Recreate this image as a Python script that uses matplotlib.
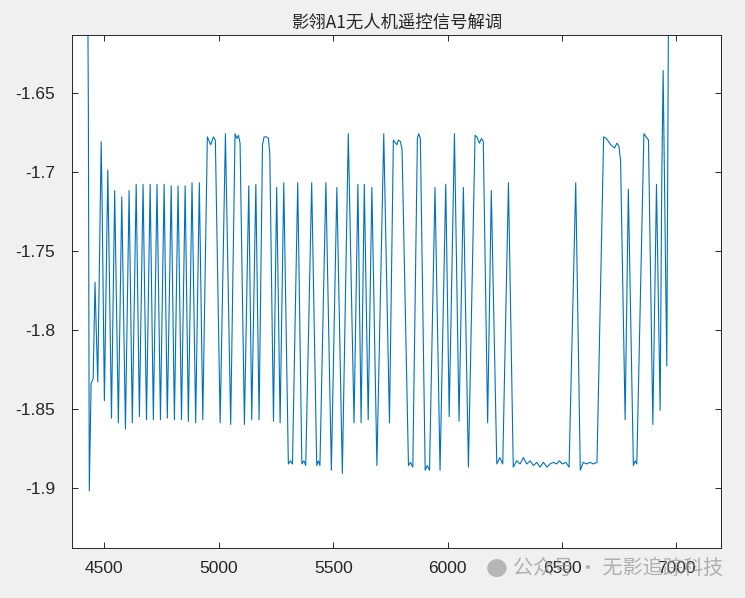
import numpy as np
import matplotlib
matplotlib.use("Agg")
from matplotlib import pyplot as plt
from matplotlib.patches import Ellipse

""" 影翎A1 remote control signal demod trace, MATLAB look """

# sample index of each vertex
sample_idx = [
    4427, 4430, 4434, 4442, 4451, 4459, 4464, 4471, 4486, 4490,
    4500, 4515, 4531, 4545, 4561, 4576, 4592, 4608, 4622, 4639,
    4653, 4669, 4684, 4700, 4714, 4730, 4745, 4761, 4775, 4792,
    4806, 4822, 4837, 4853, 4867, 4883, 4899, 4915, 4930, 4950,
    4965, 4976, 4985, 5006, 5029, 5052, 5071, 5079, 5086, 5093,
    5112, 5131, 5144, 5162, 5176, 5191, 5198, 5208, 5217, 5223,
    5239, 5253, 5268, 5284, 5304, 5313, 5322, 5345, 5363, 5372,
    5380, 5406, 5428, 5435, 5442, 5468, 5492, 5516, 5540, 5566,
    5591, 5608, 5622, 5636, 5653, 5669, 5691, 5721, 5746, 5763,
    5778, 5785, 5794, 5801, 5829, 5838, 5848, 5868, 5874, 5881,
    5902, 5911, 5921, 5945, 5967, 5992, 6007, 6030, 6050, 6069,
    6091, 6120, 6128, 6139, 6148, 6156, 6175, 6191, 6215, 6228,
    6241, 6266, 6287, 6302, 6317, 6331, 6346, 6361, 6375, 6390,
    6404, 6419, 6434, 6448, 6462, 6477, 6489, 6502, 6517, 6531,
    6560, 6580, 6593, 6608, 6622, 6637, 6653, 6682, 6694, 6713,
    6730, 6740, 6749, 6756, 6776, 6790, 6812, 6820, 6827, 6858,
    6878, 6897, 6913, 6929, 6936, 6942, 6958, 6966,
]

# demodulated amplitude at those samples
amplitude = [
    -1.580, -1.662, -1.902, -1.834, -1.831, -1.770, -1.798, -1.833, -1.681, -1.718,
    -1.845, -1.699, -1.856, -1.712, -1.859, -1.716, -1.863, -1.712, -1.859, -1.708,
    -1.855, -1.708, -1.857, -1.708, -1.857, -1.708, -1.857, -1.708, -1.856, -1.709,
    -1.857, -1.709, -1.857, -1.709, -1.858, -1.707, -1.859, -1.707, -1.857, -1.678,
    -1.683, -1.678, -1.680, -1.859, -1.676, -1.860, -1.676, -1.679, -1.677, -1.682,
    -1.860, -1.709, -1.857, -1.708, -1.857, -1.683, -1.678, -1.678, -1.679, -1.689,
    -1.858, -1.710, -1.859, -1.707, -1.885, -1.883, -1.885, -1.707, -1.885, -1.883,
    -1.886, -1.707, -1.886, -1.883, -1.886, -1.707, -1.889, -1.710, -1.891, -1.676,
    -1.859, -1.708, -1.859, -1.708, -1.857, -1.710, -1.886, -1.676, -1.859, -1.680,
    -1.683, -1.680, -1.681, -1.686, -1.886, -1.884, -1.887, -1.679, -1.676, -1.679,
    -1.889, -1.886, -1.889, -1.710, -1.889, -1.708, -1.855, -1.676, -1.858, -1.710,
    -1.887, -1.677, -1.678, -1.682, -1.679, -1.681, -1.859, -1.712, -1.885, -1.881,
    -1.885, -1.707, -1.887, -1.883, -1.885, -1.881, -1.885, -1.883, -1.886, -1.884,
    -1.887, -1.884, -1.887, -1.885, -1.884, -1.885, -1.883, -1.885, -1.884, -1.887,
    -1.707, -1.889, -1.884, -1.885, -1.884, -1.885, -1.884, -1.678, -1.679, -1.683,
    -1.685, -1.682, -1.684, -1.693, -1.857, -1.711, -1.886, -1.883, -1.885, -1.676,
    -1.680, -1.860, -1.708, -1.851, -1.707, -1.636, -1.823, -1.580,
]

x_ticks = [4500, 5000, 5500, 6000, 6500, 7000]
y_ticks = [-1.9, -1.85, -1.8, -1.75, -1.7, -1.65]
y_tick_labels = ["-1.9", "-1.85", "-1.8", "-1.75", "-1.7", "-1.65"]

title = "影翎A1无人机遥控信号解调"
watermark = "公众号 · 无影追踪科技"

dark = "#262626"

fig = plt.figure(figsize=(7.45, 5.98), dpi=100, facecolor="#f0f0f0")
ax = fig.add_axes([0.0962, 0.0831, 0.8716, 0.8584])
ax.set_facecolor("white")

ax.plot(sample_idx, amplitude, color="#0072BD", lw=0.8)

ax.set_xlim(4357, 7195)
ax.set_ylim(-1.9384, -1.6135)
ax.set_xticks(x_ticks)
ax.set_xticklabels([str(t) for t in x_ticks])
ax.set_yticks(y_ticks)
ax.set_yticklabels(y_tick_labels)

for s in ax.spines.values():
    s.set_color(dark)
    s.set_linewidth(0.7)
ax.tick_params(direction="in", length=4, width=0.7, color=dark,
               top=True, right=True, labelcolor=dark, labelsize=12.5)
ax.tick_params(axis="x", pad=9)
ax.tick_params(axis="y", pad=12)
for lab in ax.get_xticklabels() + ax.get_yticklabels():
    lab.set_family(["Liberation Sans", "DejaVu Sans"])

ax.set_title(title, fontsize=12.5, fontweight="medium", color=dark, pad=5,
             family=["Noto Sans CJK SC", "DejaVu Sans"])

# watermark over the bottom right corner (overlaps tick labels like the original)
fig.text(0.689, 0.049, watermark, fontsize=14.5, color="#9a9a9a", alpha=0.75,
         family=["Noto Sans CJK SC", "DejaVu Sans"], va="center", ha="left")
fig.patches.append(Ellipse((0.667, 0.050), 0.026, 0.030, transform=fig.transFigure,
                           facecolor="#a8a8a8", edgecolor="none", alpha=0.8))

plt.savefig("out.png", dpi=100, facecolor=fig.get_facecolor())
